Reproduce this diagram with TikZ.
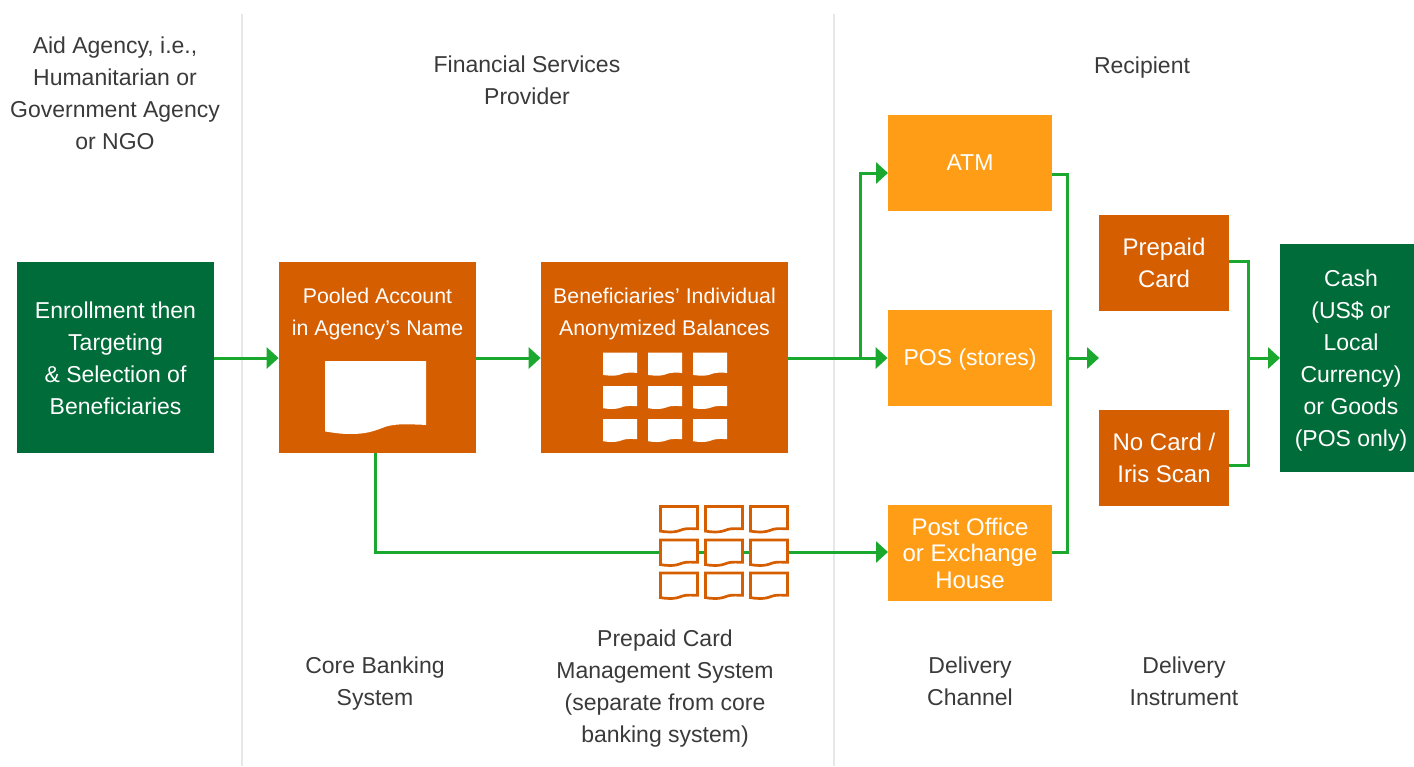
\documentclass[tikz,border=0pt]{standalone}
\usepackage{fontspec}
\setmainfont{Liberation Sans}
\usetikzlibrary{arrows.meta}
\definecolor{dkgreen}{HTML}{006C39}
\definecolor{rust}{HTML}{D55E00}
\definecolor{amber}{HTML}{FF9E16}
\definecolor{link}{HTML}{1AA82E}
\definecolor{rule}{HTML}{E6E7E8}
\definecolor{ink}{HTML}{3A3A3A}
\tikzset{
  txt/.style={align=center,inner sep=0pt,font=\fontsize{11.5}{16}\selectfont,execute at begin node=\strut,execute at end node=\strut,yshift=-2.5pt},
  txtone/.style={yshift=1.8pt},
  label/.style={txt,text=ink},
  onwhite/.style={txt,text=white},
  slim/.style={font=\fontsize{10.65}{16}\selectfont,yshift=22.75pt},
  large/.style={font=\fontsize{12}{16}\selectfont},
  tight/.style={font=\fontsize{12}{13.25}\selectfont,yshift=0.5pt},
  conn/.style={draw=link,line width=1.5pt},
  arr/.style={conn,-{Triangle[length=6pt,width=10.5pt]}},
  divider/.style={draw=rule,line width=1.2pt},
  solidicon/.style={fill=white,draw=none},
  hollowicon/.style={fill=white,draw=rust,line width=1.35pt,line join=miter},
}
\newcommand{\boxat}[8]{% name,x1,y1,x2,y2,colour,text style,text
  \node[fill=#6,inner sep=0pt,minimum width={(#4-#2)*0.5pt},minimum height={(#5-#3)*0.5pt}] (#1) at ({(#2+#4)/2},{(#3+#5)/2}) {};
  \node[onwhite,#7] (#1T) at (#1) {#8};}
\newcommand{\docshape}[5]{% style,x,y,w,h
  \path[#1,shift={(#2,#3)},xscale=#4,yscale=#5] (0,0) -- (1,0) -- (1,.875)
    .. controls (.85,.87) and (.72,.85) .. (.6,.9)
    .. controls (.47,.97) and (.4,1) .. (.25,1)
    .. controls (.15,1) and (.07,.98) .. (0,.965) -- cycle;}
\begin{document}
\begin{tikzpicture}[x=0.5pt,y=-0.5pt]
\useasboundingbox (0,0) rectangle (1414,766);
\coordinate (d1a) at (242,14); \coordinate (d1b) at (242,766);
\coordinate (d2a) at (834,14); \coordinate (d2b) at (834,766);
\draw[divider] (d1a) -- (d1b);
\draw[divider] (d2a) -- (d2b);

\node[label] (hAid) at (115,93) {Aid Agency, i.e.,\\Humanitarian or\\Government Agency\\or NGO};
\node[label] (hFin) at (527,80) {Financial Services\\Provider};
\node[label,txtone] (hRec) at (1142,66) {Recipient};
\node[label] (lCore) at (375,681) {Core Banking\\System};
\node[label] (lPre) at (665,686) {Prepaid Card\\Management System\\(separate from core\\banking system)};
\node[label] (lCh) at (970,681) {Delivery\\Channel};
\node[label] (lIn) at (1184,681) {Delivery\\Instrument};

\boxat{enroll}{17}{262}{214}{453}{dkgreen}{}{Enrollment then\\Targeting\\\& Selection of\\Beneficiaries}
\boxat{pool}{279}{262}{476}{453}{rust}{slim}{Pooled Account\\in Agency’s Name}
\boxat{bal}{541}{262}{788}{453}{rust}{slim}{Beneficiaries’ Individual\\Anonymized Balances}
\boxat{atm}{888}{115}{1052}{211}{amber}{txtone}{ATM}
\boxat{pos}{888}{310}{1052}{406}{amber}{txtone}{POS (stores)}
\boxat{po}{888}{505}{1052}{601}{amber}{tight}{Post Office\\or Exchange\\House}
\boxat{card}{1099}{215}{1229}{311}{rust}{large}{Prepaid\\Card}
\boxat{iris}{1099}{410}{1229}{506}{rust}{large}{No Card /\\Iris Scan}
\boxat{cash}{1280}{244}{1414}{472}{dkgreen}{xshift=2pt}{Cash\\(US\$ or\\Local\\Currency)\\or Goods\\(POS only)}

\coordinate (branchL) at (860,358);
\coordinate (atmIn) at (888,173);
\coordinate (poolOut) at (375,453);
\coordinate (atmOut) at (1052,174);
\coordinate (poOut) at (1052,552);
\coordinate (bus1) at (1067,358);
\coordinate (busEnd) at (1099,358);
\coordinate (cardOut) at (1229,261);
\coordinate (irisOut) at (1229,465);
\coordinate (bus2) at (1248,358);
\coordinate (cashIn) at (1280,358);
\coordinate (poIn) at (888,552);

\draw[arr] (enroll.east |- 0,358) -- (pool.west |- 0,358);
\draw[arr] (pool.east |- 0,358) -- (bal.west |- 0,358);
\draw[arr] (bal.east |- 0,358) -- (pos.west |- 0,358);
\draw[arr] (branchL) |- (atmIn);
\draw[arr] (poolOut) |- (poIn);
\draw[conn] (atmOut) -| (bus1) |- (poOut);
\draw[arr] (bus1) -- (busEnd);
\draw[conn] (cardOut) -| (bus2) |- (irisOut);
\draw[arr] (bus2) -- (cashIn);

\docshape{solidicon}{325}{361}{101}{73}
\foreach \x in {603,648,693}
  \foreach \y in {352.7,386,419}
    {\docshape{solidicon}{\x}{\y}{34}{23}}
\foreach \x in {660.5,705.5,750.5}
  \foreach \y in {506.5,540,573}
    {\docshape{hollowicon}{\x}{\y}{37}{25.5}}
\end{tikzpicture}
\end{document}
